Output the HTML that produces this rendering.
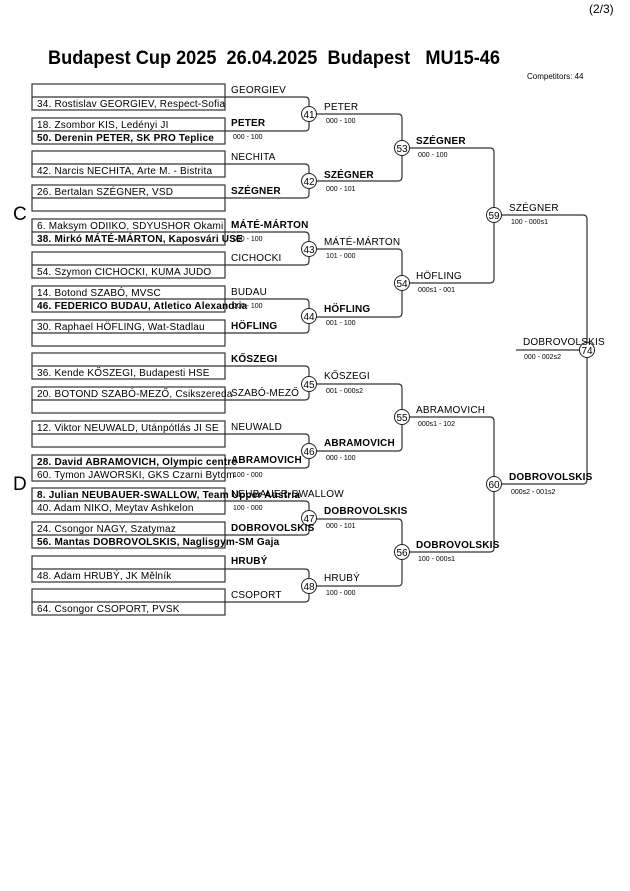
<!DOCTYPE html>
<html><head><meta charset="utf-8"><style>
html,body{margin:0;padding:0;background:#fff;}
svg{display:block;font-family:"Liberation Sans",Arial,sans-serif;}
.n{font-size:10px;fill:#000;letter-spacing:0.2px;}
.b{font-size:10px;font-weight:bold;fill:#000;letter-spacing:0.2px;}
.s{font-size:7px;fill:#000;}
.c{font-size:10px;fill:#000;}
.t{white-space:pre;}
</style></head><body>
<svg width="630" height="891" viewBox="0 0 630 891" xmlns="http://www.w3.org/2000/svg">
<text x="589" y="13" font-size="12">(2/3)</text>
<text class="t" x="48" y="64" font-size="19" font-weight="bold" textLength="452" lengthAdjust="spacingAndGlyphs" xml:space="preserve">Budapest Cup 2025  26.04.2025  Budapest   MU15-46</text>
<text x="527" y="79" font-size="8">Competitors: 44</text>
<text x="13" y="220" font-size="19">C</text>
<text x="13" y="490" font-size="19">D</text>
<g fill="none" stroke="#333" stroke-width="1.2">
<rect x="32" y="84" width="193" height="26"/><line x1="32" y1="97" x2="225" y2="97"/>
<rect x="32" y="118" width="193" height="26"/><line x1="32" y1="131" x2="225" y2="131"/>
<rect x="32" y="151" width="193" height="26"/><line x1="32" y1="164" x2="225" y2="164"/>
<rect x="32" y="185" width="193" height="26"/><line x1="32" y1="198" x2="225" y2="198"/>
<rect x="32" y="219" width="193" height="26"/><line x1="32" y1="232" x2="225" y2="232"/>
<rect x="32" y="252" width="193" height="26"/><line x1="32" y1="265" x2="225" y2="265"/>
<rect x="32" y="286" width="193" height="26"/><line x1="32" y1="299" x2="225" y2="299"/>
<rect x="32" y="320" width="193" height="26"/><line x1="32" y1="333" x2="225" y2="333"/>
<rect x="32" y="353" width="193" height="26"/><line x1="32" y1="366" x2="225" y2="366"/>
<rect x="32" y="387" width="193" height="26"/><line x1="32" y1="400" x2="225" y2="400"/>
<rect x="32" y="421" width="193" height="26"/><line x1="32" y1="434" x2="225" y2="434"/>
<rect x="32" y="455" width="193" height="26"/><line x1="32" y1="468" x2="225" y2="468"/>
<rect x="32" y="488" width="193" height="26"/><line x1="32" y1="501" x2="225" y2="501"/>
<rect x="32" y="522" width="193" height="26"/><line x1="32" y1="535" x2="225" y2="535"/>
<rect x="32" y="556" width="193" height="26"/><line x1="32" y1="569" x2="225" y2="569"/>
<rect x="32" y="589" width="193" height="26"/><line x1="32" y1="602" x2="225" y2="602"/>
<path d="M225 97H305Q309 97 309 101V127Q309 131 305 131H225"/>
<path d="M225 164H305Q309 164 309 168V194Q309 198 305 198H225"/>
<path d="M225 232H305Q309 232 309 236V261Q309 265 305 265H225"/>
<path d="M225 299H305Q309 299 309 303V329Q309 333 305 333H225"/>
<path d="M225 366H305Q309 366 309 370V396Q309 400 305 400H225"/>
<path d="M225 434H305Q309 434 309 438V464Q309 468 305 468H225"/>
<path d="M225 501H305Q309 501 309 505V531Q309 535 305 535H225"/>
<path d="M225 569H305Q309 569 309 573V598Q309 602 305 602H225"/>
<path d="M309 114H398Q402 114 402 118V177Q402 181 398 181H309"/>
<path d="M309 249H398Q402 249 402 253V313Q402 317 398 317H309"/>
<path d="M309 384H398Q402 384 402 388V447Q402 451 398 451H309"/>
<path d="M309 519H398Q402 519 402 523V582Q402 586 398 586H309"/>
<path d="M402 148H490Q494 148 494 152V279Q494 283 490 283H402"/>
<path d="M402 417H490Q494 417 494 421V548Q494 552 490 552H402"/>
<path d="M494 215H583Q587 215 587 219V480Q587 484 583 484H494"/>
<line x1="516" y1="350" x2="587" y2="350"/>
</g>
<g fill="#fff" stroke="#222" stroke-width="1">
<circle cx="309" cy="114" r="7.5"/><circle cx="309" cy="181" r="7.5"/><circle cx="309" cy="249" r="7.5"/><circle cx="309" cy="316" r="7.5"/>
<circle cx="309" cy="384" r="7.5"/><circle cx="309" cy="451" r="7.5"/><circle cx="309" cy="518" r="7.5"/><circle cx="309" cy="586" r="7.5"/>
<circle cx="402" cy="148" r="7.5"/><circle cx="402" cy="283" r="7.5"/><circle cx="402" cy="417" r="7.5"/><circle cx="402" cy="552" r="7.5"/>
<circle cx="494" cy="215" r="7.5"/><circle cx="494" cy="484" r="7.5"/><circle cx="587" cy="350" r="7.5"/>
</g>
<g class="c" text-anchor="middle" font-size="10">
<text x="309" y="118">41</text><text x="309" y="185">42</text><text x="309" y="253">43</text><text x="309" y="320">44</text>
<text x="309" y="388">45</text><text x="309" y="455">46</text><text x="309" y="522">47</text><text x="309" y="590">48</text>
<text x="402" y="152">53</text><text x="402" y="287">54</text><text x="402" y="421">55</text><text x="402" y="556">56</text>
<text x="494" y="219">59</text><text x="494" y="488">60</text><text x="587" y="354">74</text>
</g>
<text class="n" x="37" y="107">34. Rostislav GEORGIEV, Respect-Sofia</text>
<text class="n" x="37" y="128">18. Zsombor KIS, Ledényi JI</text>
<text class="b" x="37" y="141">50. Derenin PETER, SK PRO Teplice</text>
<text class="n" x="37" y="174">42. Narcis NECHITA, Arte M. - Bistrita</text>
<text class="n" x="37" y="195">26. Bertalan SZÉGNER, VSD</text>
<text class="n" x="37" y="229">6. Maksym ODIIKO, SDYUSHOR Okami</text>
<text class="b" x="37" y="242">38. Mirkó MÁTÉ-MÁRTON, Kaposvári USE</text>
<text class="n" x="37" y="275">54. Szymon CICHOCKI, KUMA JUDO</text>
<text class="n" x="37" y="296">14. Botond SZABÓ, MVSC</text>
<text class="b" x="37" y="309">46. FEDERICO BUDAU, Atletico Alexandria</text>
<text class="n" x="37" y="330">30. Raphael HÖFLING, Wat-Stadlau</text>
<text class="n" x="37" y="376">36. Kende KŐSZEGI, Budapesti HSE</text>
<text class="n" x="37" y="397">20. BOTOND SZABÓ-MEZŐ, Csikszereda</text>
<text class="n" x="37" y="431">12. Viktor NEUWALD, Utánpótlás JI SE</text>
<text class="b" x="37" y="465">28. David ABRAMOVICH, Olympic centre</text>
<text class="n" x="37" y="478">60. Tymon JAWORSKI, GKS Czarni Bytom</text>
<text class="b" x="37" y="498">8. Julian NEUBAUER-SWALLOW, Team Upper Austria</text>
<text class="n" x="37" y="511">40. Adam NIKO, Meytav Ashkelon</text>
<text class="n" x="37" y="532">24. Csongor NAGY, Szatymaz</text>
<text class="b" x="37" y="545">56. Mantas DOBROVOLSKIS, Naglisgym-SM Gaja</text>
<text class="n" x="37" y="579">48. Adam HRUBÝ, JK Mělník</text>
<text class="n" x="37" y="612">64. Csongor CSOPORT, PVSK</text>
<text class="n" x="231" y="93">GEORGIEV</text>
<text class="b" x="231" y="126">PETER</text><text class="s" x="233" y="139">000 - 100</text>
<text class="n" x="231" y="160">NECHITA</text>
<text class="b" x="231" y="194">SZÉGNER</text>
<text class="b" x="231" y="228">MÁTÉ-MÁRTON</text><text class="s" x="233" y="241">000 - 100</text>
<text class="n" x="231" y="261">CICHOCKI</text>
<text class="n" x="231" y="295">BUDAU</text><text class="s" x="233" y="308">000 - 100</text>
<text class="b" x="231" y="329">HÖFLING</text>
<text class="b" x="231" y="362">KŐSZEGI</text>
<text class="n" x="231" y="396">SZABÓ-MEZŐ</text>
<text class="n" x="231" y="430">NEUWALD</text>
<text class="b" x="231" y="463">ABRAMOVICH</text><text class="s" x="233" y="477">100 - 000</text>
<text class="n" x="231" y="497">NEUBAUER-SWALLOW</text><text class="s" x="233" y="510">100 - 000</text>
<text class="b" x="231" y="531">DOBROVOLSKIS</text>
<text class="b" x="231" y="564">HRUBÝ</text>
<text class="n" x="231" y="598">CSOPORT</text>
<text class="n" x="324" y="110">PETER</text><text class="s" x="326" y="123">000 - 100</text>
<text class="b" x="324" y="178">SZÉGNER</text><text class="s" x="326" y="191">000 - 101</text>
<text class="n" x="324" y="245">MÁTÉ-MÁRTON</text><text class="s" x="326" y="258">101 - 000</text>
<text class="b" x="324" y="312">HÖFLING</text><text class="s" x="326" y="325">001 - 100</text>
<text class="n" x="324" y="379">KŐSZEGI</text><text class="s" x="326" y="393">001 - 000s2</text>
<text class="b" x="324" y="446">ABRAMOVICH</text><text class="s" x="326" y="460">000 - 100</text>
<text class="b" x="324" y="514">DOBROVOLSKIS</text><text class="s" x="326" y="528">000 - 101</text>
<text class="n" x="324" y="581">HRUBÝ</text><text class="s" x="326" y="595">100 - 000</text>
<text class="b" x="416" y="144">SZÉGNER</text><text class="s" x="418" y="157">000 - 100</text>
<text class="n" x="416" y="279">HÖFLING</text><text class="s" x="418" y="292">000s1 - 001</text>
<text class="n" x="416" y="413">ABRAMOVICH</text><text class="s" x="418" y="426">000s1 - 102</text>
<text class="b" x="416" y="548">DOBROVOLSKIS</text><text class="s" x="418" y="561">100 - 000s1</text>
<text class="n" x="509" y="211">SZÉGNER</text><text class="s" x="511" y="224">100 - 000s1</text>
<text class="b" x="509" y="480">DOBROVOLSKIS</text><text class="s" x="511" y="494">000s2 - 001s2</text>
<text class="n" x="523" y="345">DOBROVOLSKIS</text><text class="s" x="524" y="359">000 - 002s2</text>
</svg>
</body></html>
